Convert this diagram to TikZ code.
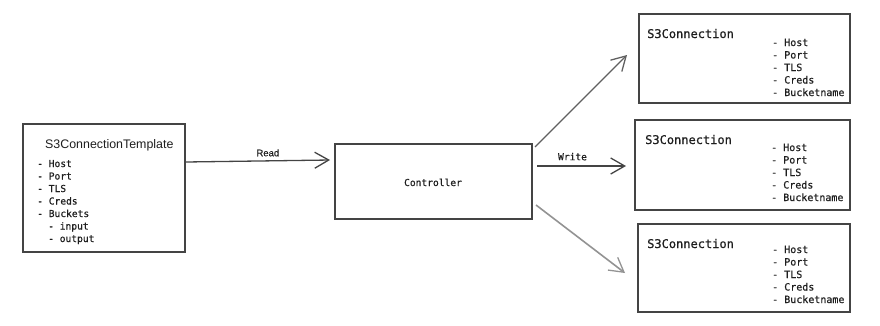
\documentclass[tikz,border=0pt]{standalone}
\usepackage{fontspec}
\setmainfont{Liberation Sans}
\setmonofont{DejaVu Sans Mono}
\newfontfamily\medmono{DejaVu Sans Mono}[FakeBold=0.6]
\newfontfamily\medsans{Liberation Sans}[FakeBold=0.6]
\usetikzlibrary{arrows.meta}
\definecolor{ink}{HTML}{1e1e1e}
\definecolor{edge}{HTML}{444444}
\tikzset{
  box/.style={draw=edge, line width=1.3pt, rectangle, inner sep=0pt},
  conn/.style={draw=edge, line width=1.3pt, -{Straight Barb[length=14pt,width=16pt,line width=1.3pt]}},
  item/.style={anchor=base west, inner sep=0pt, text=ink, font=\medmono\fontsize{9.6}{12}\selectfont},
  citem/.style={anchor=base west, inner sep=0pt, text=ink, font=\medmono\fontsize{10}{12.5}\selectfont},
  ctitle/.style={anchor=base west, inner sep=0pt, text=ink, font=\medmono\fontsize{12}{14}\selectfont},
  lbl/.style={anchor=base, inner sep=0pt, text=ink, font=\medmono\fontsize{9.6}{12}\selectfont},
}
\begin{document}
\begin{tikzpicture}[x=1pt,y=-1pt]
\useasboundingbox (0,0) rectangle (880,325);
% boxes
\node[box, minimum width=162pt, minimum height=128pt] (tmpl) at (104,188) {};
\node[box, minimum width=197pt, minimum height=75pt] (ctrl) at (433.5,181.5) {};
\node[box, minimum width=211pt, minimum height=89pt] (c1) at (744.5,58.5) {};
\node[box, minimum width=215pt, minimum height=90pt] (c2) at (742.5,165) {};
\node[box, minimum width=212pt, minimum height=88pt] (c3) at (744,268) {};
% template text
\node[anchor=base west, inner sep=0pt, text=ink, font=\fontsize{12.4}{14}\selectfont] (tt) at (45,148) {S3ConnectionTemplate};
\node[item] (t1) at (37,167) {- Host};
\node[item] (t2) at (37,179.5) {- Port};
\node[item] (t3) at (37,192) {- TLS};
\node[item] (t4) at (37,204.5) {- Creds};
\node[item] (t5) at (37,217) {- Buckets};
\node[item] (t6) at (48,229.5) {- input};
\node[item] (t7) at (48,242) {- output};
% controller
\node[lbl] (cl) at (433,186) {Controller};
% connection boxes text
\node[ctitle] (h1) at (647,38) {S3Connection};
\node[citem] (a1) at (772,46) {- Host};
\node[citem] (a2) at (772,58.5) {- Port};
\node[citem] (a3) at (772,71) {- TLS};
\node[citem] (a4) at (772,83.5) {- Creds};
\node[citem] (a5) at (772,96) {- Bucketname};
\node[ctitle] (h2) at (645,144) {S3Connection};
\node[citem] (b1) at (771,151) {- Host};
\node[citem] (b2) at (771,163.5) {- Port};
\node[citem] (b3) at (771,176) {- TLS};
\node[citem] (b4) at (771,188.5) {- Creds};
\node[citem] (b5) at (771,201) {- Bucketname};
\node[ctitle] (h3) at (647,248) {S3Connection};
\node[citem] (d1) at (772,253) {- Host};
\node[citem] (d2) at (772,265.5) {- Port};
\node[citem] (d3) at (772,278) {- TLS};
\node[citem] (d4) at (772,290.5) {- Creds};
\node[citem] (d5) at (772,303) {- Bucketname};
% connector endpoints
\coordinate (rs) at (tmpl.east |- 0,162);
\coordinate (re) at (330,160);
\coordinate (us) at (535,147);
\coordinate (ue) at (627,55);
\coordinate (ms) at (537,166);
\coordinate (me) at (626,166);
\coordinate (ls) at (536,205);
\coordinate (le) at (625,273);
\draw[conn] (rs) -- node[above=4pt, inner sep=0pt, text=ink, font=\medsans\fontsize{9.5}{11}\selectfont, xshift=10pt] (rl) {Read} (re);
\draw[conn, draw=edge!85] (us) -- (ue);
\draw[conn] (ms) -- node[above=5pt, inner sep=0pt, text=ink, font=\medmono\fontsize{9.6}{12}\selectfont, xshift=-9pt] (wl) {Write} (me);
\draw[conn, draw=gray!85, line width=1.6pt] (ls) -- (le);
\end{tikzpicture}
\end{document}
